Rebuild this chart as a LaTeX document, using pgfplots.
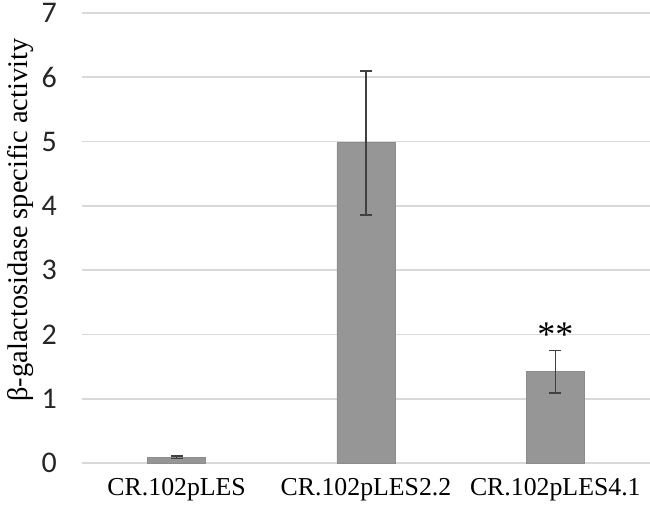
\documentclass[border=0pt]{standalone}
\usepackage{pgfplots}
\pgfplotsset{compat=1.18}
\usepackage{fontspec}
\setmainfont{Liberation Serif}
\newfontfamily\tickfont{Carlito}
\definecolor{barfill}{RGB}{150,150,150}
\definecolor{baredge}{RGB}{140,140,140}
\definecolor{errcol}{RGB}{64,64,64}
\definecolor{gridcol}{RGB}{217,217,217}
\begin{document}
\begin{tikzpicture}
\begin{axis}[
  at={(0,0)}, anchor=south west,
  scale only axis, width=284pt, height=225pt,
  xmin=-0.5, xmax=2.5, ymin=0, ymax=7,
  axis line style={draw=none},
  major tick length=0pt,
  ymajorgrids, grid style={color=gridcol, line width=0.8pt},
  ytick={0,1,2,3,4,5,6,7},
  xtick={0,1,2},
  xticklabels={CR.102pLES, CR.102pLES2.2, CR.102pLES4.1},
  xticklabel style={font=\fontsize{12.9}{15}\selectfont, yshift=-4pt},
  yticklabel style={font=\tickfont\fontsize{15}{17}\selectfont, xshift=-9pt, text=black!85},
  /pgf/number format/assume math mode=true,
  ylabel={β-galactosidase specific activity},
  ylabel style={font=\fontsize{14.2}{16}\selectfont, at={(ticklabel cs:0.54)}},
  ylabel shift=-3pt,
  clip=false,
]
\addplot[ybar, bar width=29pt, fill=barfill, draw=baredge, line width=0.4pt,
  error bars/.cd, y dir=both, y explicit,
  error bar style={line width=0.8pt, color=errcol},
  error mark options={rotate=90, mark size=3pt, line width=0.8pt, color=errcol}]
  coordinates {
    (0,0.09) +- (0,0.022)
    (1,4.98) +- (0,1.12)
    (2,1.42) +- (0,0.33)
  };
\node[font=\fontsize{18}{20}\selectfont] at (axis cs:2,2.0) {**};
\end{axis}
\pgfresetboundingbox
\path[use as bounding box] (-41pt,-23.5pt) rectangle (284pt,231.5pt);
\end{tikzpicture}
\end{document}
